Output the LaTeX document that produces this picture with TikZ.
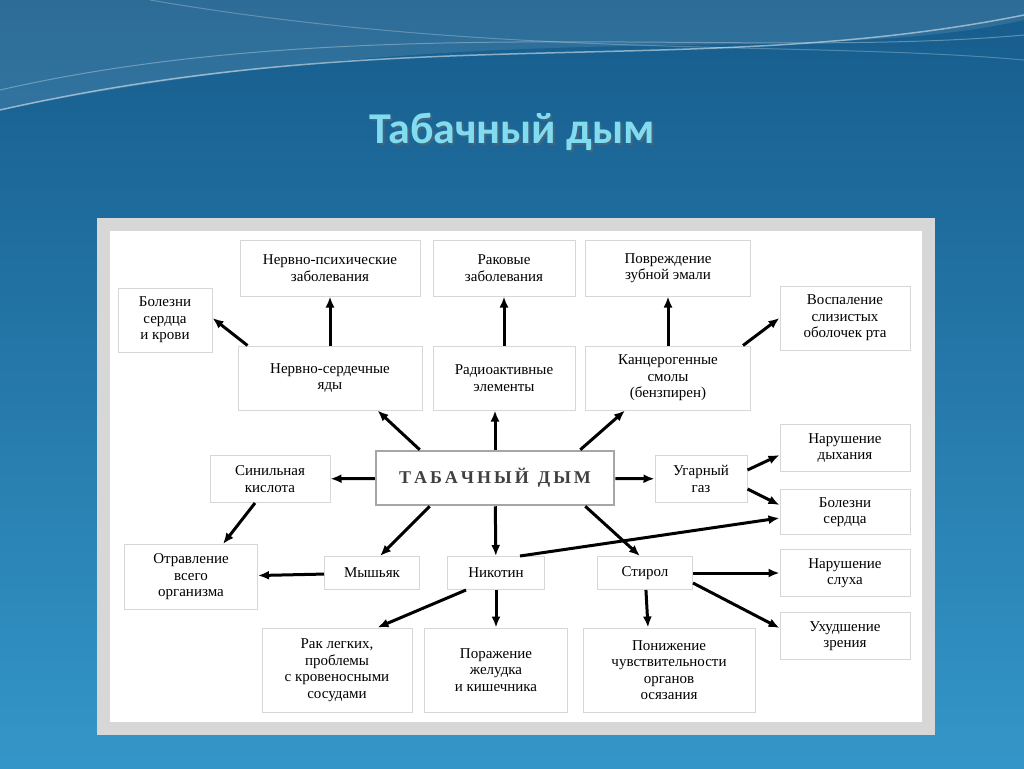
\documentclass[tikz,border=0pt]{standalone}
\usepackage{fontspec}
\setmainfont{Liberation Serif}
\newfontfamily\titlefont{Carlito}
\usetikzlibrary{arrows.meta}

\definecolor{bgtop}{RGB}{22,92,140}
\definecolor{bgbot}{RGB}{52,150,200}
\definecolor{boxline}{RGB}{215,215,215}
\definecolor{titlecol}{RGB}{130,220,240}

\tikzset{
  item/.style={draw=boxline, fill=white, line width=1pt, align=center,
    font=\fontsize{15}{16.5}\selectfont, inner sep=2pt},
  arr/.style={-{Latex[length=11pt,width=9pt]}, line width=3pt, black}
}

\begin{document}
\begin{tikzpicture}[x=1pt,y=-1pt]
            \useasboundingbox (0,0) rectangle (1024,768);
            \shade[top color=bgtop, bottom color=bgbot] (0,0) rectangle (1024,768);

            % waves at the top
            \fill[white, opacity=0.10] (0,0) -- (1024,0) -- (1024,20) .. controls (800,70) and (500,10) .. (0,110) -- cycle;
            \draw[white, opacity=0.5, line width=1.5pt] (0,110) .. controls (400,20) and (700,80) .. (1024,15);
            \draw[white, opacity=0.3, line width=1pt] (0,90) .. controls (350,10) and (750,60) .. (1024,35);
            \draw[white, opacity=0.25, line width=1pt] (150,0) .. controls (500,60) and (800,40) .. (1024,60);

            % title
            \node[font=\titlefont\bfseries\fontsize{44}{44}\selectfont, text=black!60, opacity=0.5] (titleshadow) at (514,134) {Табачный дым};
            \node[font=\titlefont\bfseries\fontsize{44}{44}\selectfont, text=titlecol] (title) at (512,132) {Табачный дым};

            % panel
            \fill[boxline] (97,218) rectangle (935,735);
            \fill[white] (110,231) rectangle (922,722);

            % boxes
            \node[item, minimum width=180, minimum height=56] (psych) at (330,268) {Нервно-психические\\заболевания};
            \node[item, minimum width=142, minimum height=56] (cancer) at (504,268) {Раковые\\заболевания};
            \node[item, minimum width=165, minimum height=56] (teeth) at (668,268) {Повреждение\\зубной эмали};
            \node[item, minimum width=94, minimum height=64] (heartblood) at (165,320) {Болезни\\сердца\\и крови};
            \node[item, minimum width=130, minimum height=64] (mouth) at (845,318) {Воспаление\\слизистых\\оболочек рта};
            \node[item, minimum width=184, minimum height=64] (nerve) at (330,378) {Нервно-сердечные\\яды};
            \node[item, minimum width=142, minimum height=64] (radio) at (504,378) {Радиоактивные\\элементы};
            \node[item, minimum width=165, minimum height=64] (tar) at (668,378) {Канцерогенные\\смолы\\(бензпирен)};
            \node[item, minimum width=120, minimum height=47] (cyan) at (270,479) {Синильная\\кислота};
            \node[item, draw=gray!70, line width=2.5pt, minimum width=238, minimum height=54,
              font=\bfseries\fontsize{18}{18}\selectfont, text=black!75] (smoke) at (495,478) {Т\,А\,Б\,А\,Ч\,Н\,Ы\,Й\ \ Д\,Ы\,М};
            \node[item, minimum width=92, minimum height=47] (co) at (701,479) {Угарный\\газ};
            \node[item, minimum width=130, minimum height=47] (breath) at (845,448) {Нарушение\\дыхания};
            \node[item, minimum width=130, minimum height=45] (heart) at (845,512) {Болезни\\сердца};
            \node[item, minimum width=133, minimum height=65] (poison) at (191,577) {Отравление\\всего\\организма};
            \node[item, minimum width=95, minimum height=33] (arsenic) at (372,573) {Мышьяк};
            \node[item, minimum width=97, minimum height=33] (nicotine) at (496,573) {Никотин};
            \node[item, minimum width=95, minimum height=33] (styrene) at (645,573) {Стирол};
            \node[item, minimum width=130, minimum height=47] (hearing) at (845,573) {Нарушение\\слуха};
            \node[item, minimum width=130, minimum height=47] (sight) at (845,636) {Ухудшение\\зрения};
            \node[item, minimum width=150, minimum height=84] (lungs) at (337,670) {Рак легких,\\проблемы\\с кровеносными\\сосудами};
            \node[item, minimum width=143, minimum height=84] (stomach) at (496,670) {Поражение\\желудка\\и кишечника};
            \node[item, minimum width=172, minimum height=84] (touch) at (669,670) {Понижение\\чувствительности\\органов\\осязания};

            % arrows
            \draw[arr] (nerve) -- (psych);
            \draw[arr] ([xshift=10]nerve.north west) -- ([yshift=2]heartblood.east);
            \draw[arr] (radio) -- (cancer);
            \draw[arr] (tar) -- (teeth);
            \draw[arr] ([xshift=-8]tar.north east) -- (mouth.west);
            \draw[arr] ([xshift=45]smoke.north west) -- ([xshift=-45]nerve.south east);
            \draw[arr] (smoke) -- ([xshift=-9]radio.south);
            \draw[arr] ([xshift=-35]smoke.north east) -- ([xshift=-43]tar.south);
            \draw[arr] (smoke) -- (cyan);
            \draw[arr] (smoke) -- (co);
            \draw[arr] ([xshift=55]smoke.south west) -- ([xshift=-40]arsenic.north east);
            \draw[arr] (smoke) -- (nicotine);
            \draw[arr] ([xshift=-30]smoke.south east) -- ([xshift=-5]styrene.north);
            \draw[arr] ([xshift=-15]cyan.south) -- ([xshift=-35]poison.north east);
            \draw[arr] (arsenic) -- (poison);
            \draw[arr] ([yshift=9]co.east) -- ([yshift=-7]breath.west);
            \draw[arr] ([yshift=-10]co.east) -- ([yshift=7]heart.west);
            \draw[arr] ([xshift=-25]nicotine.north east) -- ([yshift=-6]heart.west);
            \draw[arr] ([xshift=-30]nicotine.south) -- ([xshift=-35]lungs.north east);
            \draw[arr] (nicotine) -- (stomach);
            \draw[arr] (styrene) -- (hearing);
            \draw[arr] ([yshift=-10]styrene.east) -- ([yshift=8]sight.west);
            \draw[arr] (styrene) -- ([xshift=-21]touch.north);
\end{tikzpicture}
\end{document}
